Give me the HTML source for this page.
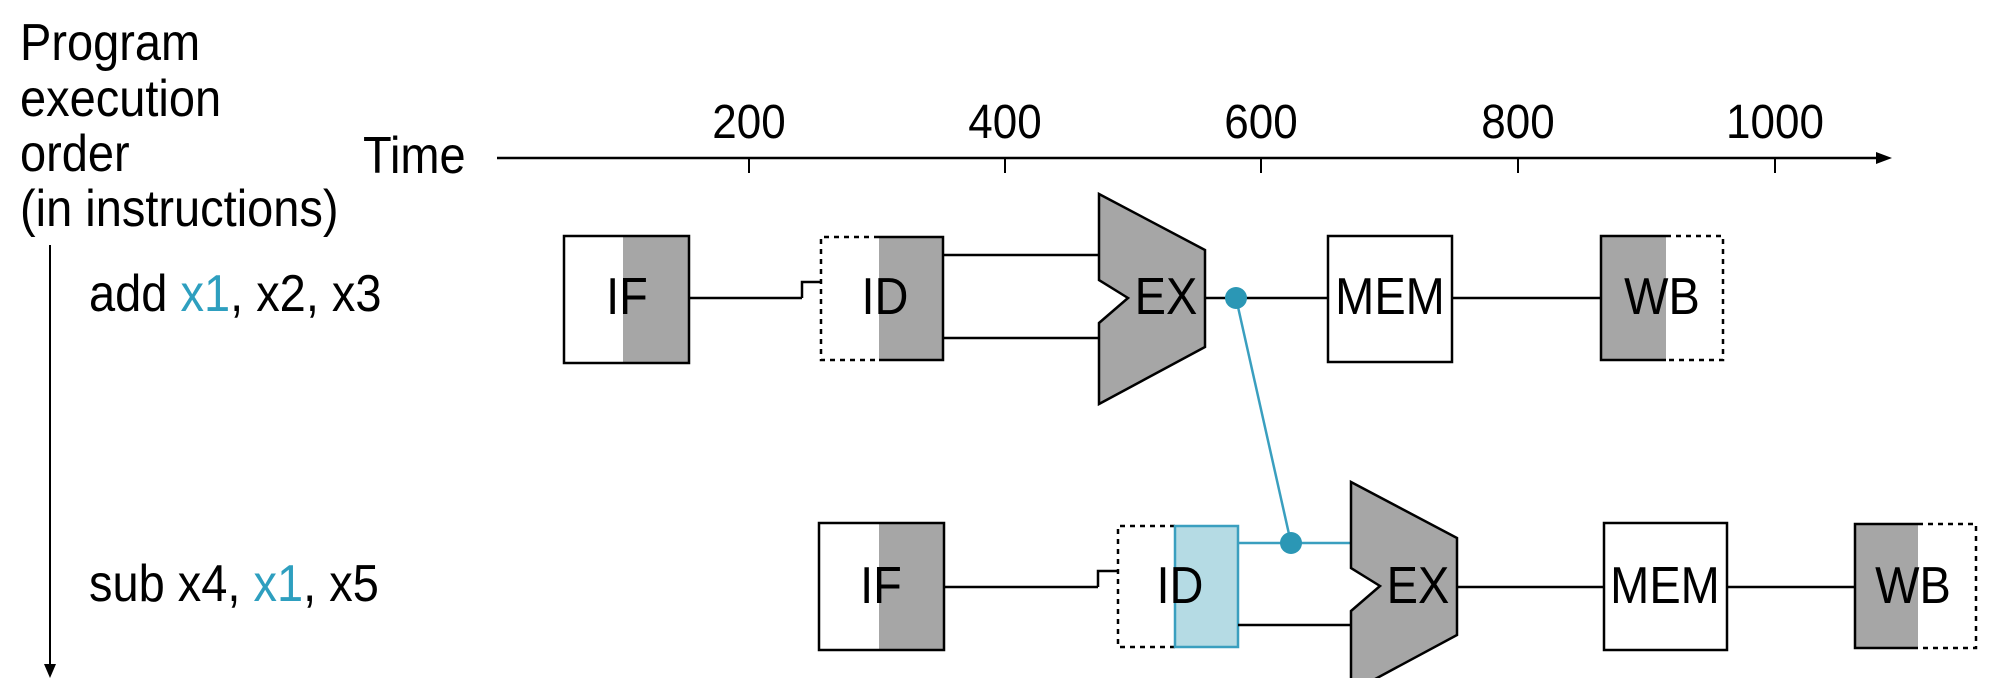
<!DOCTYPE html>
<html><head><meta charset="utf-8"><style>
html,body{margin:0;padding:0;background:#fff;}
svg{display:block;}
text{font-family:"Liberation Sans",Arial,sans-serif;fill:#000;}
</style></head><body>
<svg width="2000" height="678" viewBox="0 0 2000 678" xmlns="http://www.w3.org/2000/svg">
<defs>
<g id="ex">
<polygon points="1099,194 1205,250 1205,347 1099,404 1099,323 1128,298 1099,280" fill="#a6a6a6" stroke="#000" stroke-width="2.5" stroke-linejoin="miter"/>
</g>
</defs>
<!-- left labels -->
<g font-size="47">
<text x="20" y="60" transform="matrix(1,0,0,1.1,0,-6)">Program</text>
<text x="20" y="116" transform="matrix(1,0,0,1.1,0,-11.6)">execution</text>
<text x="20" y="171" transform="matrix(1,0,0,1.1,0,-17.1)">order</text>
<text x="20" y="226" transform="matrix(1,0,0,1.1,0,-22.6)">(in instructions)</text>
<text x="363" y="173" transform="matrix(1,0,0,1.1,0,-17.3)">Time</text>
<text x="89" y="311" transform="matrix(1,0,0,1.1,0,-31.1)">add <tspan style="fill:#2e9fbf">x1</tspan>, x2, x3</text>
<text x="89" y="601" transform="matrix(1,0,0,1.1,0,-60.1)">sub x4, <tspan style="fill:#2e9fbf">x1</tspan>, x5</text>
</g>
<!-- vertical arrow -->
<line x1="50" y1="245" x2="50" y2="668" stroke="#000" stroke-width="2"/>
<polygon points="44,664 56,664 50,678" fill="#000"/>
<!-- time axis -->
<line x1="497" y1="158" x2="1880" y2="158" stroke="#000" stroke-width="2.5"/>
<polygon points="1876,152 1892,158 1876,164" fill="#000"/>
<g stroke="#000" stroke-width="2">
<line x1="749" y1="158" x2="749" y2="173"/>
<line x1="1005" y1="158" x2="1005" y2="173"/>
<line x1="1261" y1="158" x2="1261" y2="173"/>
<line x1="1518" y1="158" x2="1518" y2="173"/>
<line x1="1775" y1="158" x2="1775" y2="173"/>
</g>
<g font-size="44" text-anchor="middle">
<text x="749" y="138" transform="matrix(1,0,0,1.1,0,-13.8)">200</text>
<text x="1005" y="138" transform="matrix(1,0,0,1.1,0,-13.8)">400</text>
<text x="1261" y="138" transform="matrix(1,0,0,1.1,0,-13.8)">600</text>
<text x="1518" y="138" transform="matrix(1,0,0,1.1,0,-13.8)">800</text>
<text x="1775" y="138" transform="matrix(1,0,0,1.1,0,-13.8)">1000</text>
</g>

<!-- Row 1 -->
<rect x="564" y="236" width="125" height="127" fill="#fff"/>
<rect x="623" y="236" width="66" height="127" fill="#a6a6a6"/>
<rect x="564" y="236" width="125" height="127" fill="none" stroke="#000" stroke-width="2.5"/>
<line x1="689" y1="298" x2="802" y2="298" stroke="#000" stroke-width="2.5"/>
<polyline points="802,298 802,282 821,282" fill="none" stroke="#000" stroke-width="2.5"/>
<rect x="879" y="237" width="64" height="123" fill="#a6a6a6"/>
<polyline points="879,237 821,237 821,360 879,360" fill="none" stroke="#000" stroke-width="2.5" stroke-dasharray="5,5"/>
<polyline points="879,237 943,237 943,360 879,360" fill="none" stroke="#000" stroke-width="2.5"/>
<line x1="943" y1="255" x2="1099" y2="255" stroke="#000" stroke-width="2.5"/>
<line x1="943" y1="338" x2="1099" y2="338" stroke="#000" stroke-width="2.5"/>
<use href="#ex"/>
<line x1="1205" y1="298" x2="1328" y2="298" stroke="#000" stroke-width="2.5"/>
<rect x="1328" y="236" width="124" height="126" fill="#fff" stroke="#000" stroke-width="2.5"/>
<line x1="1452" y1="298" x2="1601" y2="298" stroke="#000" stroke-width="2.5"/>
<rect x="1601" y="236" width="65" height="124" fill="#a6a6a6"/>
<polyline points="1666,236 1601,236 1601,360 1666,360" fill="none" stroke="#000" stroke-width="2.5"/>
<polyline points="1666,236 1723,236 1723,360 1666,360" fill="none" stroke="#000" stroke-width="2.5" stroke-dasharray="5,5"/>
<g font-size="47" text-anchor="middle">
<text x="627" y="314" transform="matrix(1,0,0,1.1,0,-31.4)">IF</text>
<text x="885" y="314" transform="matrix(1,0,0,1.1,0,-31.4)">ID</text>
<text x="1166" y="314" transform="matrix(1,0,0,1.1,0,-31.4)">EX</text>
<text x="1390" y="314" transform="matrix(1,0,0,1.1,0,-31.4)">MEM</text>
<text x="1662" y="314" transform="matrix(1,0,0,1.1,0,-31.4)">WB</text>
</g>

<!-- Row 2 -->
<rect x="819" y="523" width="125" height="127" fill="#fff"/>
<rect x="879" y="523" width="65" height="127" fill="#a6a6a6"/>
<rect x="819" y="523" width="125" height="127" fill="none" stroke="#000" stroke-width="2.5"/>
<line x1="944" y1="587" x2="1098" y2="587" stroke="#000" stroke-width="2.5"/>
<polyline points="1098,587 1098,571 1118,571" fill="none" stroke="#000" stroke-width="2.5"/>
<polyline points="1175,526 1118,526 1118,647 1175,647" fill="none" stroke="#000" stroke-width="2.5" stroke-dasharray="5,5"/>
<rect x="1175" y="526" width="63" height="121" fill="#b5dbe4" stroke="#3a9fbf" stroke-width="2.5"/>
<line x1="1238" y1="543" x2="1351" y2="543" stroke="#3a9fbf" stroke-width="2.5"/>
<line x1="1238" y1="625" x2="1351" y2="625" stroke="#000" stroke-width="2.5"/>
<use href="#ex" transform="translate(252,288)"/>
<line x1="1458" y1="587" x2="1604" y2="587" stroke="#000" stroke-width="2.5"/>
<rect x="1604" y="523" width="123" height="127" fill="#fff" stroke="#000" stroke-width="2.5"/>
<line x1="1727" y1="587" x2="1855" y2="587" stroke="#000" stroke-width="2.5"/>
<rect x="1855" y="524" width="63" height="124" fill="#a6a6a6"/>
<polyline points="1918,524 1855,524 1855,648 1918,648" fill="none" stroke="#000" stroke-width="2.5"/>
<polyline points="1918,524 1976,524 1976,648 1918,648" fill="none" stroke="#000" stroke-width="2.5" stroke-dasharray="5,5"/>
<g font-size="47" text-anchor="middle">
<text x="881" y="603" transform="matrix(1,0,0,1.1,0,-60.3)">IF</text>
<text x="1180" y="603" transform="matrix(1,0,0,1.1,0,-60.3)">ID</text>
<text x="1418" y="603" transform="matrix(1,0,0,1.1,0,-60.3)">EX</text>
<text x="1665" y="603" transform="matrix(1,0,0,1.1,0,-60.3)">MEM</text>
<text x="1913" y="603" transform="matrix(1,0,0,1.1,0,-60.3)">WB</text>
</g>

<!-- forwarding -->
<line x1="1236" y1="298" x2="1291" y2="543" stroke="#3a9fbf" stroke-width="2.5"/>
<circle cx="1236" cy="298" r="11" fill="#2b97b5"/>
<circle cx="1291" cy="543" r="11" fill="#2b97b5"/>
</svg>
</body></html>
